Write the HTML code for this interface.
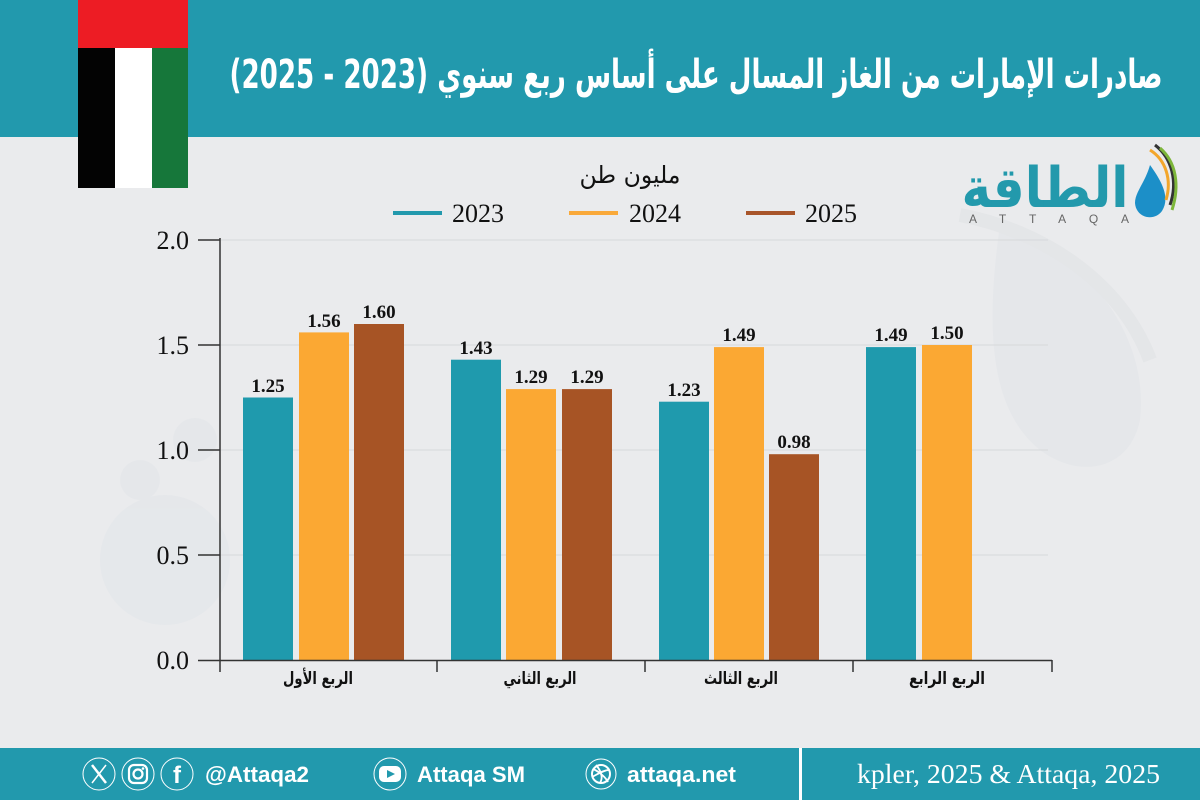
<!DOCTYPE html>
<html><head><meta charset="utf-8"><style>
html,body{margin:0;padding:0;background:#EAEBED;}
svg{display:block;}
</style></head><body>
<svg width="1200" height="800" viewBox="0 0 1200 800" xmlns="http://www.w3.org/2000/svg">
<rect x="0" y="0" width="1200" height="800" fill="#EAEBED"/>
<!-- faint watermark -->
<g opacity="0.35">
  <path d="M1000,225 C1080,250 1150,330 1140,420 C1130,470 1080,480 1040,450 C990,410 985,330 1000,225 Z" fill="#DCE0E6"/>
  <path d="M960,215 C1040,230 1120,280 1150,360" stroke="#DADDE0" stroke-width="14" fill="none"/>
  <circle cx="165" cy="560" r="65" fill="#DDE2E7"/>
  <circle cx="140" cy="480" r="20" fill="#DDE2E7"/>
  <circle cx="195" cy="440" r="22" fill="#DDE2E7"/>
</g>
<!-- header -->
<rect x="0" y="0" width="1200" height="137" fill="#2299AD"/>
<text x="696" y="88" text-anchor="middle" direction="rtl" font-family="'DejaVu Sans', 'Liberation Sans', sans-serif" font-weight="bold" font-size="40" fill="#FFFFFF" textLength="933" lengthAdjust="spacingAndGlyphs">صادرات الإمارات من الغاز المسال على أساس ربع سنوي (2023 - 2025)</text>
<!-- flag -->
<rect x="78" y="0" width="110" height="48" fill="#ED1C24"/>
<rect x="78" y="48" width="37" height="140" fill="#030303"/>
<rect x="115" y="48" width="37" height="140" fill="#FFFFFF"/>
<rect x="152" y="48" width="36" height="140" fill="#16773A"/>
<!-- logo -->
<text x="1045" y="207" text-anchor="middle" direction="rtl" font-family="'DejaVu Sans', sans-serif" font-weight="bold" font-size="56" fill="#2399AC" textLength="167" lengthAdjust="spacingAndGlyphs">الطاقة</text>
<text x="1049" y="223" text-anchor="middle" font-family="'Liberation Sans', sans-serif" font-size="12" fill="#666" textLength="160" lengthAdjust="spacing">ATTAQA</text>
<path d="M1150,165 C1163,183 1170,198 1162,211 C1154,222 1136,218 1135,203 C1135,192 1145,183 1150,165 Z" fill="#1C8FC8"/>
<path d="M1150,150 C1166,160 1172,180 1166,200" stroke="#F3A62B" stroke-width="3" fill="none"/>
<path d="M1155,145 C1172,158 1178,182 1170,205" stroke="#333" stroke-width="3" fill="none"/>
<path d="M1160,148 C1176,162 1180,185 1172,210" stroke="#7DB63A" stroke-width="3" fill="none"/>
<!-- y label & legend -->
<text x="630" y="183" text-anchor="middle" direction="rtl" font-family="'DejaVu Sans', sans-serif" font-size="24" fill="#111" textLength="101" lengthAdjust="spacingAndGlyphs">مليون طن</text>
<line x1="393" y1="213" x2="442" y2="213" stroke="#2299AD" stroke-width="4"/>
<text x="452" y="222" font-family="'Liberation Serif', serif" font-size="26" fill="#111">2023</text>
<line x1="569" y1="213" x2="618" y2="213" stroke="#F9A93A" stroke-width="4"/>
<text x="629" y="222" font-family="'Liberation Serif', serif" font-size="26" fill="#111">2024</text>
<line x1="746" y1="213" x2="795" y2="213" stroke="#A8552A" stroke-width="4"/>
<text x="805" y="222" font-family="'Liberation Serif', serif" font-size="26" fill="#111">2025</text>
<!-- grid -->
<g stroke="#D6D8DB" stroke-width="1">
  <line x1="220" y1="240" x2="1048" y2="240"/>
  <line x1="220" y1="345" x2="1048" y2="345"/>
  <line x1="220" y1="450" x2="1048" y2="450"/>
  <line x1="220" y1="555" x2="1048" y2="555"/>
</g>
<!-- bars -->
<g>
  <rect x="243" y="397.5" width="50" height="262.5" fill="#1F9AAD"/>
  <rect x="299" y="332.4" width="50" height="327.6" fill="#FBA833"/>
  <rect x="354" y="324" width="50" height="336" fill="#A75425"/>
  <rect x="451" y="359.7" width="50" height="300.3" fill="#1F9AAD"/>
  <rect x="506" y="389.1" width="50" height="270.9" fill="#FBA833"/>
  <rect x="562" y="389.1" width="50" height="270.9" fill="#A75425"/>
  <rect x="659" y="401.7" width="50" height="258.3" fill="#1F9AAD"/>
  <rect x="714" y="347.1" width="50" height="312.9" fill="#FBA833"/>
  <rect x="769" y="454.2" width="50" height="205.8" fill="#A75425"/>
  <rect x="866" y="347.1" width="50" height="312.9" fill="#1F9AAD"/>
  <rect x="922" y="345" width="50" height="315" fill="#FBA833"/>
</g>
<!-- data labels -->
<g font-family="'Liberation Serif', serif" font-weight="bold" font-size="19" fill="#111" text-anchor="middle">
  <text x="268" y="392">1.25</text>
  <text x="324" y="327">1.56</text>
  <text x="379" y="318">1.60</text>
  <text x="476" y="354">1.43</text>
  <text x="531" y="383">1.29</text>
  <text x="587" y="383">1.29</text>
  <text x="684" y="396">1.23</text>
  <text x="739" y="341">1.49</text>
  <text x="794" y="448">0.98</text>
  <text x="891" y="341">1.49</text>
  <text x="947" y="339">1.50</text>
</g>
<!-- axes -->
<g stroke="#333" stroke-width="1.5">
  <line x1="220" y1="238" x2="220" y2="672"/>
  <line x1="198" y1="660.5" x2="1052" y2="660.5"/>
  <line x1="198" y1="240" x2="220" y2="240"/>
  <line x1="198" y1="345" x2="220" y2="345"/>
  <line x1="198" y1="450" x2="220" y2="450"/>
  <line x1="198" y1="555" x2="220" y2="555"/>
  <line x1="437" y1="660" x2="437" y2="672"/>
  <line x1="645" y1="660" x2="645" y2="672"/>
  <line x1="853" y1="660" x2="853" y2="672"/>
  <line x1="1052" y1="660" x2="1052" y2="672"/>
</g>
<g font-family="'Liberation Serif', serif" font-size="26" fill="#111" text-anchor="end">
  <text x="189" y="249">2.0</text>
  <text x="189" y="354">1.5</text>
  <text x="189" y="459">1.0</text>
  <text x="189" y="564">0.5</text>
  <text x="189" y="669">0.0</text>
</g>
<g font-family="'DejaVu Sans', sans-serif" font-weight="bold" font-size="17" fill="#111" text-anchor="middle" direction="rtl">
  <text x="318" y="684" textLength="70" lengthAdjust="spacingAndGlyphs">الربع الأول</text>
  <text x="540" y="684" textLength="73" lengthAdjust="spacingAndGlyphs">الربع الثاني</text>
  <text x="741" y="684" textLength="74" lengthAdjust="spacingAndGlyphs">الربع الثالث</text>
  <text x="947" y="684" textLength="76" lengthAdjust="spacingAndGlyphs">الربع الرابع</text>
</g>
<!-- footer -->
<rect x="0" y="748" width="1200" height="52" fill="#2299AD"/>
<rect x="799" y="748" width="3" height="52" fill="#FFFFFF"/>
<g fill="none" stroke="#FFFFFF" stroke-width="1">
  <circle cx="99" cy="774" r="16"/>
  <circle cx="138" cy="774" r="16"/>
  <circle cx="177" cy="774" r="16"/>
  <circle cx="390" cy="774" r="16"/>
  <circle cx="601" cy="774" r="15"/>
</g>
<g stroke="#FFFFFF" fill="none">
  <line x1="92" y1="765" x2="106" y2="783" stroke-width="2.5"/>
  <line x1="106" y1="765" x2="92" y2="783" stroke-width="1.5"/>
  <rect x="129" y="765" width="18" height="18" rx="5" stroke-width="2.2"/>
  <circle cx="138" cy="774" r="4.5" stroke-width="2.2"/>
  <circle cx="601" cy="774" r="9" stroke-width="2"/>
  <path d="M593,769 C600,772 606,778 608,782" stroke-width="1.8"/>
  <path d="M596,765 C602,772 603,778 600,783" stroke-width="1.8"/>
  <path d="M592,777 C598,774 604,770 609,770" stroke-width="1.8"/>
</g>
<circle cx="143" cy="768.5" r="1.3" fill="#FFF"/>
<text x="177" y="783" text-anchor="middle" font-family="'Liberation Sans', sans-serif" font-weight="bold" font-size="24" fill="#FFF">f</text>
<rect x="379" y="766" width="22" height="16" rx="5" fill="#FFF"/>
<path d="M387,770 L395,774 L387,778 Z" fill="#2299AD"/>
<g font-family="'Liberation Sans', sans-serif" font-weight="bold" font-size="22" fill="#FFFFFF">
  <text x="205" y="782" textLength="104" lengthAdjust="spacingAndGlyphs">@Attaqa2</text>
  <text x="417" y="782" textLength="108" lengthAdjust="spacingAndGlyphs">Attaqa SM</text>
  <text x="627" y="782" textLength="109" lengthAdjust="spacingAndGlyphs">attaqa.net</text>
</g>
<text x="857" y="783" font-family="'Liberation Serif', serif" font-size="27" fill="#FFFFFF" textLength="303" lengthAdjust="spacingAndGlyphs">kpler, 2025 &amp; Attaqa, 2025</text>
</svg>
</body></html>
